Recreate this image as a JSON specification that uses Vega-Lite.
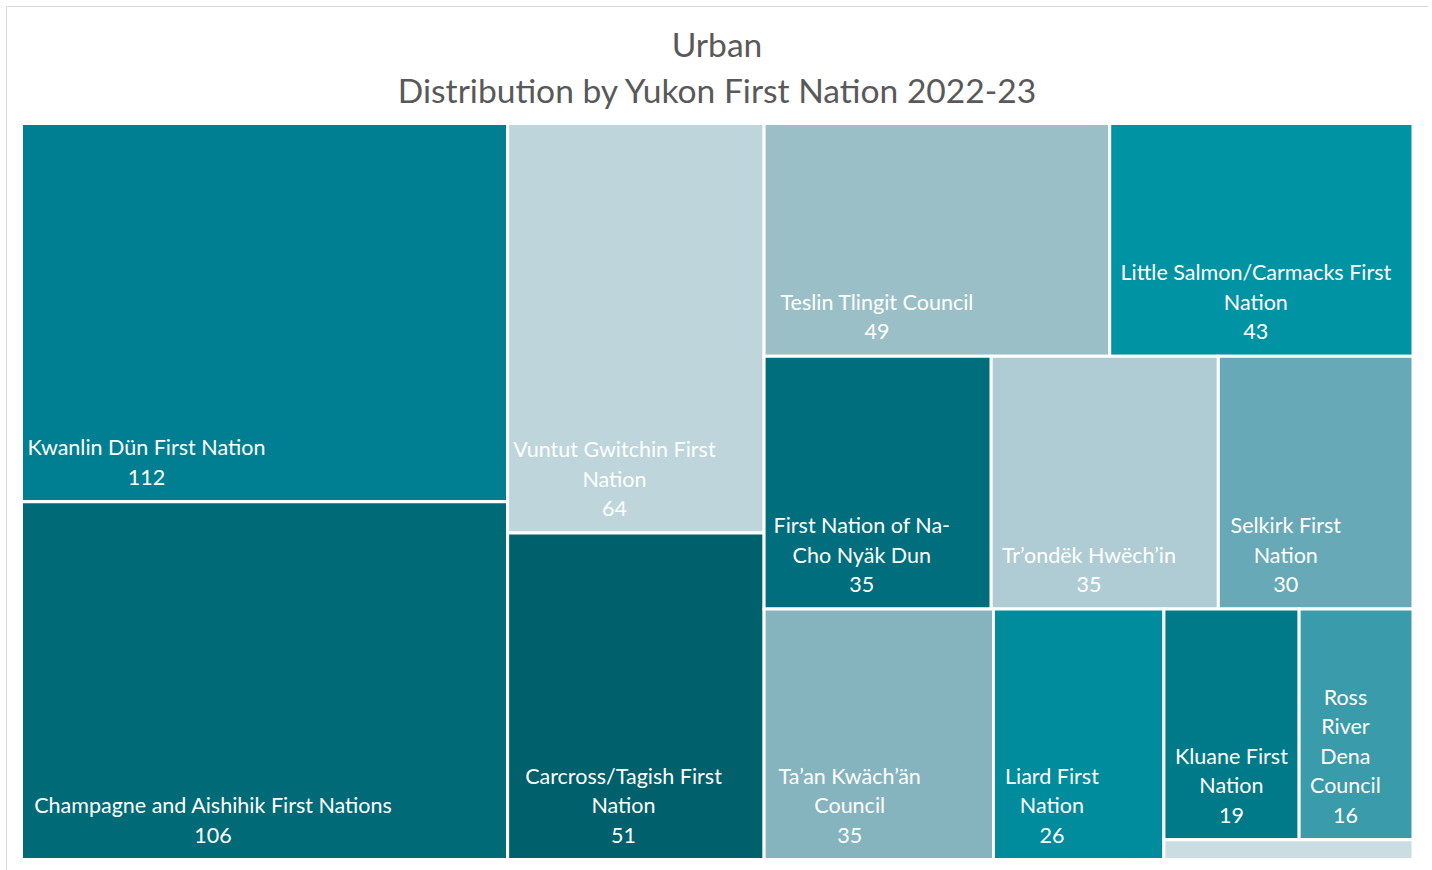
{
  "$schema": "https://vega.github.io/schema/vega-lite/v6.json",
  "width": 1422,
  "height": 870,
  "autosize": {"type": "none"},
  "padding": {"left": 6, "top": 6, "right": 0, "bottom": 0},
  "background": "white",
  "config": {"view": {"stroke": "#D9D9D9", "strokeWidth": 1}},
  "title": {
    "text": ["Urban", "Distribution by Yukon First Nation 2022-23"],
    "font": "Lato",
    "fontSize": 33.6,
    "fontWeight": "normal",
    "color": "#595959",
    "lineHeight": 46,
    "anchor": "middle",
    "offset": -104
  },
  "data": {
    "values": [
      {"order": 1, "name": "Kwanlin Dün First Nation", "label": "Kwanlin Dün First Nation", "value": 112, "g1": "c1", "g2": "kd", "g3": "kd", "g4": "kd"},
      {"order": 2, "name": "Champagne and Aishihik First Nations", "label": "Champagne and Aishihik First Nations", "value": 106, "g1": "c1", "g2": "ca", "g3": "ca", "g4": "ca"},
      {"order": 3, "name": "Vuntut Gwitchin First Nation", "label": "Vuntut Gwitchin First\nNation", "value": 64, "g1": "c2", "g2": "vg", "g3": "vg", "g4": "vg"},
      {"order": 4, "name": "Carcross/Tagish First Nation", "label": "Carcross/Tagish First\nNation", "value": 51, "g1": "c2", "g2": "ct", "g3": "ct", "g4": "ct"},
      {"order": 5, "name": "Teslin Tlingit Council", "label": "Teslin Tlingit Council", "value": 49, "g1": "c3", "g2": "r1", "g3": "tt", "g4": "tt"},
      {"order": 6, "name": "Little Salmon/Carmacks First Nation", "label": "Little Salmon/Carmacks First\nNation", "value": 43, "g1": "c3", "g2": "r1", "g3": "ls", "g4": "ls"},
      {"order": 7, "name": "First Nation of Na-Cho Nyäk Dun", "label": "First Nation of Na-\nCho Nyäk Dun", "value": 35, "g1": "c3", "g2": "r2", "g3": "nn", "g4": "nn"},
      {"order": 8, "name": "Tr’ondëk Hwëch’in", "label": "Tr’ondëk Hwëch’in", "value": 35, "g1": "c3", "g2": "r2", "g3": "th", "g4": "th"},
      {"order": 9, "name": "Selkirk First Nation", "label": "Selkirk First\nNation", "value": 30, "g1": "c3", "g2": "r2", "g3": "sf", "g4": "sf"},
      {"order": 10, "name": "Ta’an Kwäch’än Council", "label": "Ta’an Kwäch’än\nCouncil", "value": 35, "g1": "c3", "g2": "r3", "g3": "tk", "g4": "tk"},
      {"order": 11, "name": "Liard First Nation", "label": "Liard First\nNation", "value": 26, "g1": "c3", "g2": "r3", "g3": "lf", "g4": "lf"},
      {"order": 12, "name": "Kluane First Nation", "label": "Kluane First\nNation", "value": 19, "g1": "c3", "g2": "r3", "g3": "sb", "g4": "sr"},
      {"order": 13, "name": "Ross River Dena Council", "label": "Ross\nRiver\nDena\nCouncil", "value": 16, "g1": "c3", "g2": "r3", "g3": "sb", "g4": "sr"},
      {"order": 14, "name": "White River First Nation", "label": "", "value": 3, "g1": "c3", "g2": "r3", "g3": "sb", "g4": "wr"}
    ]
  },
  "transform": [
    {"stack": "value", "groupby": [], "offset": "normalize", "sort": [{"field": "order", "order": "ascending"}], "as": ["a0", "a1"]},
    {"joinaggregate": [{"op": "min", "field": "a0", "as": "X1a"}, {"op": "max", "field": "a1", "as": "X1b"}], "groupby": ["g1"]},
    {"stack": "value", "groupby": ["g1"], "offset": "normalize", "sort": [{"field": "order", "order": "ascending"}], "as": ["b0", "b1"]},
    {"joinaggregate": [{"op": "min", "field": "b0", "as": "Y2a"}, {"op": "max", "field": "b1", "as": "Y2b"}], "groupby": ["g2"]},
    {"stack": "value", "groupby": ["g2"], "offset": "normalize", "sort": [{"field": "order", "order": "ascending"}], "as": ["c0", "c1"]},
    {"joinaggregate": [{"op": "min", "field": "c0", "as": "X3a"}, {"op": "max", "field": "c1", "as": "X3b"}], "groupby": ["g3"]},
    {"stack": "value", "groupby": ["g3"], "offset": "normalize", "sort": [{"field": "order", "order": "ascending"}], "as": ["d0", "d1"]},
    {"joinaggregate": [{"op": "min", "field": "d0", "as": "Y4a"}, {"op": "max", "field": "d1", "as": "Y4b"}], "groupby": ["g4"]},
    {"stack": "value", "groupby": ["g4"], "offset": "normalize", "sort": [{"field": "order", "order": "ascending"}], "as": ["e0", "e1"]},
    {"calculate": "datum.X1a + (datum.X1b - datum.X1a) * (datum.X3a + (datum.X3b - datum.X3a) * datum.e0)", "as": "x0"},
    {"calculate": "datum.X1a + (datum.X1b - datum.X1a) * (datum.X3a + (datum.X3b - datum.X3a) * datum.e1)", "as": "x1"},
    {"calculate": "datum.Y2a + (datum.Y2b - datum.Y2a) * datum.Y4a", "as": "y0"},
    {"calculate": "datum.Y2a + (datum.Y2b - datum.Y2a) * datum.Y4b", "as": "y1"},
    {"calculate": "split(datum.label, '\\n')", "as": "lines"},
    {"calculate": "datum.lines[0] || ''", "as": "l0"},
    {"calculate": "datum.lines[1] || ''", "as": "l1"},
    {"calculate": "datum.lines[2] || ''", "as": "l2"},
    {"calculate": "datum.lines[3] || ''", "as": "l3"},
    {"calculate": "length(datum.l0) - 0.5 * length(replace(datum.l0, regexp('[^iltfjrI’ ]', 'g'), ''))", "as": "n0"},
    {"calculate": "length(datum.l1) - 0.5 * length(replace(datum.l1, regexp('[^iltfjrI’ ]', 'g'), ''))", "as": "n1"},
    {"calculate": "length(datum.l2) - 0.5 * length(replace(datum.l2, regexp('[^iltfjrI’ ]', 'g'), ''))", "as": "n2"},
    {"calculate": "length(datum.l3) - 0.5 * length(replace(datum.l3, regexp('[^iltfjrI’ ]', 'g'), ''))", "as": "n3"},
    {"calculate": "datum.x0 + (10 + 6.05 * max(datum.n0, datum.n1, datum.n2, datum.n3)) / 1391.5", "as": "tx"},
    {"calculate": "datum.y1 - (length(datum.lines) * 29.5) / 736", "as": "ty"},
    {"calculate": "datum.label + '\\n' + datum.value", "as": "txt"}
  ],
  "layer": [
    {
      "mark": {"type": "rect", "stroke": "white", "strokeWidth": 3},
      "encoding": {
        "x": {"field": "x0", "type": "quantitative", "scale": {"domain": [0, 1], "range": [15.5, 1407], "nice": false, "zero": false}, "axis": null},
        "x2": {"field": "x1"},
        "y": {"field": "y0", "type": "quantitative", "scale": {"domain": [0, 1], "range": [117.5, 853.5], "nice": false, "zero": false}, "axis": null},
        "y2": {"field": "y1"},
        "color": {
          "field": "name",
          "type": "nominal",
          "legend": null,
          "scale": {
            "domain": ["Kwanlin Dün First Nation", "Champagne and Aishihik First Nations", "Vuntut Gwitchin First Nation", "Carcross/Tagish First Nation", "Teslin Tlingit Council", "Little Salmon/Carmacks First Nation", "First Nation of Na-Cho Nyäk Dun", "Tr’ondëk Hwëch’in", "Selkirk First Nation", "Ta’an Kwäch’än Council", "Liard First Nation", "Kluane First Nation", "Ross River Dena Council", "White River First Nation"],
            "range": ["#007F92", "#006B77", "#BDD5DB", "#00606B", "#9ABFC7", "#0093A3", "#006E7C", "#AFCCD4", "#67A9B6", "#86B4BE", "#008C9C", "#007A88", "#3A9BAA", "#CADDE2"]
          }
        }
      }
    },
    {
      "transform": [{"filter": "datum.label != ''"}],
      "mark": {"type": "text", "font": "Lato", "fontSize": 21.5, "color": "white", "align": "center", "baseline": "bottom", "dy": -12, "lineHeight": 29.5, "lineBreak": "\n"},
      "encoding": {
        "x": {"field": "tx", "type": "quantitative", "scale": {"domain": [0, 1], "range": [15.5, 1407], "nice": false, "zero": false}, "axis": null},
        "y": {"field": "ty", "type": "quantitative", "scale": {"domain": [0, 1], "range": [117.5, 853.5], "nice": false, "zero": false}, "axis": null},
        "text": {"field": "txt", "type": "nominal"}
      }
    }
  ]
}
